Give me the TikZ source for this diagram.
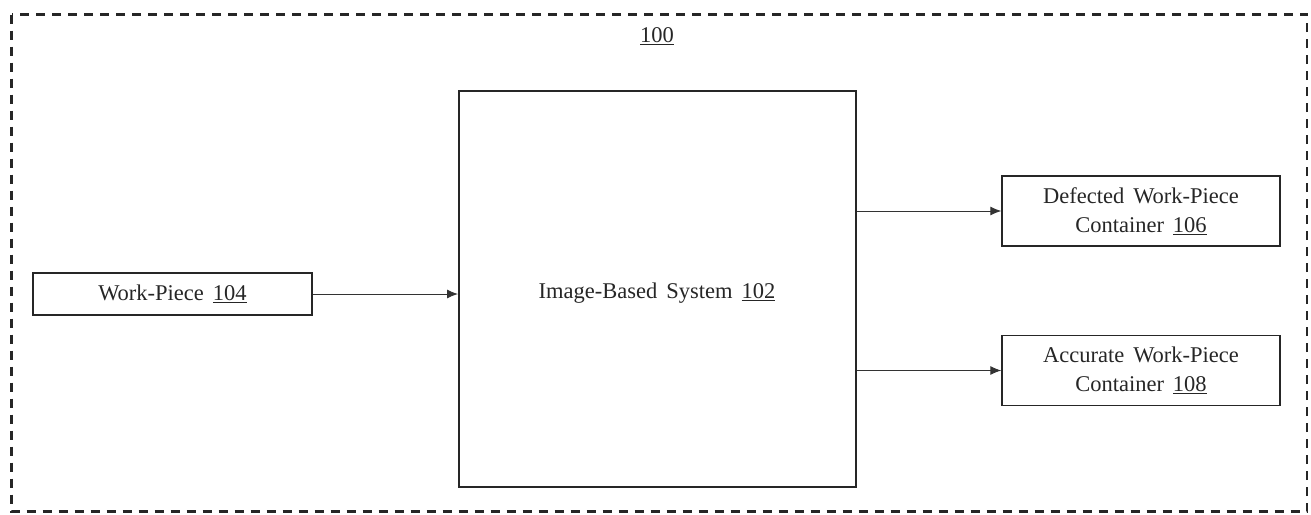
\documentclass[tikz,border=0pt]{standalone}
\usepackage{fontspec}
\setmainfont{Liberation Serif}
\usetikzlibrary{arrows.meta}
\newcommand{\setfont}{\fontsize{22.5}{29}\selectfont\spaceskip=9pt plus 2pt minus 1pt\relax}
\begin{document}
\begin{tikzpicture}[x=1pt,y=-1pt,
  every node/.style={font=\setfont, text=black!85},
  box/.style={draw=black!85, line width=1.4pt, inner sep=0pt, align=center},
  bigbox/.style={draw=black!85, line width=2pt, inner sep=0pt},
  conn/.style={draw=black!80, line width=0.9pt, -{Latex[length=11pt,width=9pt]}},
  frame/.style={draw=black!85, line width=2.2pt, dash pattern=on 9pt off 7pt}
]
\useasboundingbox (0,0) rectangle (1311,514);
\draw[frame] (11.5,14.5) rectangle (1307,511.5);
\node (lbl) at (657,36) {\underline{100}};
\node[bigbox, minimum width=397pt, minimum height=396pt] (ibs) at (657.5,289) {};
\node (ibstext) at (657,293) {Image-Based System \underline{102}};
\node[box, minimum width=279pt, minimum height=42pt] (wp) at (172.5,294) {Work-Piece \underline{104}};
\node[box, minimum width=278pt, minimum height=70pt] (def) at (1141,211) {Defected Work-Piece\\Container \underline{106}};
\node[box, minimum width=278pt, minimum height=70pt] (acc) at (1141,370.5) {Accurate Work-Piece\\Container \underline{108}};
\draw[conn] (wp.east) -- (wp.east -| ibs.west);
\draw[conn] (ibs.east |- def.west) -- (def.west);
\draw[conn] (ibs.east |- acc.west) -- (acc.west);
\end{tikzpicture}
\end{document}
